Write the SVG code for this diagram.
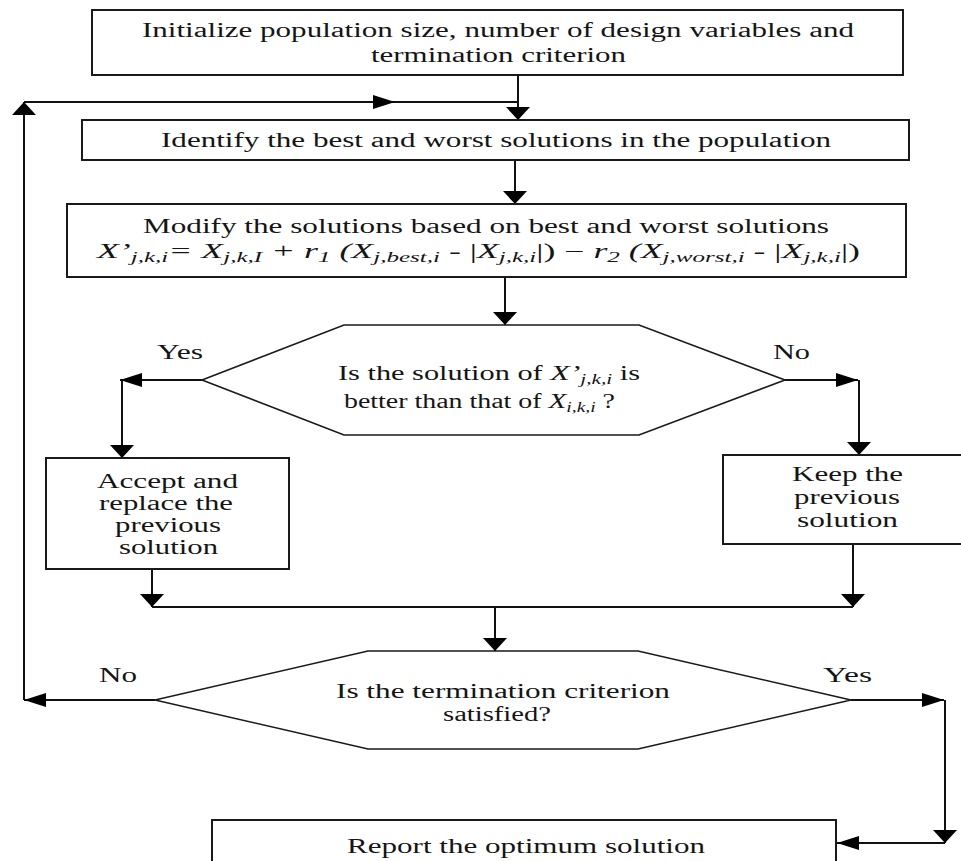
<svg xmlns="http://www.w3.org/2000/svg" width="961" height="861" viewBox="0 0 961 861">
<defs>
<marker id="ah" markerUnits="userSpaceOnUse" markerWidth="22" markerHeight="14" refX="22" refY="7" orient="auto"><path d="M0,0 L22,7 L0,14 Z" fill="#000"/></marker>
<marker id="av" markerUnits="userSpaceOnUse" markerWidth="13" markerHeight="24" refX="13" refY="12" orient="auto"><path d="M0,0 L13,12 L0,24 Z" fill="#000"/></marker>
<style>
.box{fill:#fff;stroke:#1a1a1a;stroke-width:2}
.hex{fill:#fff;stroke:#1a1a1a;stroke-width:1.6}
.t{font-family:"Liberation Serif","DejaVu Serif",serif;font-size:20px;fill:#151515}
.i{font-style:italic}
.s{font-size:14px;font-style:italic}
.c{fill:none;stroke:#111;stroke-width:2}
.h{marker-end:url(#ah)}
.v{marker-end:url(#av)}
</style>
</defs>
<g id="connectors">
<path class="c v" d="M518,75 V120"/>
<path class="c h" d="M24,102 H395"/>
<path class="c" d="M395,102 H518"/>
<path class="c v" d="M24,700 V102"/>
<path class="c v" d="M515,160 V204"/>
<path class="c v" d="M505,277 V325"/>
<path class="c h" d="M202,380 H120"/>
<path class="c v" d="M122,380 V458"/>
<path class="c h" d="M785,380 H858"/>
<path class="c v" d="M859,380 V455"/>
<path class="c v" d="M152,569 V607"/>
<path class="c v" d="M853,544 V607"/>
<path class="c" d="M152,607 H853"/>
<path class="c v" d="M495,607 V651"/>
<path class="c h" d="M155,700 H24"/>
<path class="c h" d="M851,700 H944"/>
<path class="c v" d="M945,700 V843"/>
<path class="c h" d="M945,843 H837"/>
</g>
<g id="init">
<rect class="box" x="92" y="10" width="811" height="65"/>
<text class="t" x="142" y="37" font-size="21" textLength="712" lengthAdjust="spacingAndGlyphs">Initialize population size, number of design variables and</text>
<text class="t" x="371" y="62" font-size="21" textLength="255" lengthAdjust="spacingAndGlyphs">termination criterion</text>
</g>
<g id="identify">
<rect class="box" x="82" y="120" width="827" height="40"/>
<text class="t" x="161" y="147" font-size="21" textLength="670" lengthAdjust="spacingAndGlyphs">Identify the best and worst solutions in the population</text>
</g>
<g id="modify">
<rect class="box" x="67" y="204" width="839" height="73"/>
<text class="t" x="143" y="233" font-size="21" textLength="686" lengthAdjust="spacingAndGlyphs">Modify the solutions based on best and worst solutions</text>
<text class="t i" x="97" y="258" font-size="22" textLength="763" lengthAdjust="spacingAndGlyphs">X’<tspan class="s" dy="4">j,k,i</tspan><tspan dy="-4">= X</tspan><tspan class="s" dy="4">j,k,I</tspan><tspan dy="-4"> + r</tspan><tspan class="s" dy="4">1</tspan><tspan dy="-4"> (X</tspan><tspan class="s" dy="4">j,best,i</tspan><tspan dy="-4" font-style="normal"> - |</tspan><tspan>X</tspan><tspan class="s" dy="4">j,k,i</tspan><tspan dy="-4" font-style="normal">|) − </tspan><tspan>r</tspan><tspan class="s" dy="4">2</tspan><tspan dy="-4"> (X</tspan><tspan class="s" dy="4">j,worst,i</tspan><tspan dy="-4" font-style="normal"> - |</tspan><tspan>X</tspan><tspan class="s" dy="4">j,k,i</tspan><tspan dy="-4" font-style="normal">|)</tspan></text>
</g>
<g id="decision1">
<polygon class="hex" points="202,380 344,325 639,325 785,380 639,435 344,435"/>
<text class="t" x="338" y="380" textLength="302" lengthAdjust="spacingAndGlyphs">Is the solution of <tspan class="i" font-size="21">X’</tspan><tspan class="s" dy="4">j,k,i</tspan><tspan dy="-4"> is</tspan></text>
<text class="t" x="344" y="408" textLength="271" lengthAdjust="spacingAndGlyphs">better than that of <tspan class="i" font-size="21">X</tspan><tspan class="s" dy="4">i,k,i</tspan><tspan dy="-4"> ?</tspan></text>
</g>
<g id="accept">
<rect class="box" x="46" y="458" width="243" height="111"/>
<text class="t" x="97" y="488" textLength="141" lengthAdjust="spacingAndGlyphs">Accept and</text>
<text class="t" x="99" y="510" textLength="134" lengthAdjust="spacingAndGlyphs">replace the</text>
<text class="t" x="115" y="532" textLength="106" lengthAdjust="spacingAndGlyphs">previous</text>
<text class="t" x="119" y="554" textLength="99" lengthAdjust="spacingAndGlyphs">solution</text>
</g>
<g id="keep">
<rect class="box" x="723" y="455" width="245" height="89"/>
<text class="t" x="792" y="481" textLength="111" lengthAdjust="spacingAndGlyphs">Keep the</text>
<text class="t" x="794" y="504" textLength="106" lengthAdjust="spacingAndGlyphs">previous</text>
<text class="t" x="797" y="527" textLength="101" lengthAdjust="spacingAndGlyphs">solution</text>
</g>
<g id="decision2">
<polygon class="hex" points="155,700 368,651 638,651 851,700 638,749 368,749"/>
<text class="t" x="336" y="698" textLength="334" lengthAdjust="spacingAndGlyphs">Is the termination criterion</text>
<text class="t" x="443" y="721" textLength="108" lengthAdjust="spacingAndGlyphs">satisfied?</text>
</g>
<g id="report">
<rect class="box" x="212" y="820" width="624" height="60"/>
<text class="t" x="347" y="853" textLength="358" lengthAdjust="spacingAndGlyphs">Report the optimum solution</text>
</g>
<g id="labels">
<text class="t" x="157" y="359" textLength="46" lengthAdjust="spacingAndGlyphs">Yes</text>
<text class="t" x="773" y="359" textLength="37" lengthAdjust="spacingAndGlyphs">No</text>
<text class="t" x="99" y="682" textLength="38" lengthAdjust="spacingAndGlyphs">No</text>
<text class="t" x="823" y="682" textLength="49" lengthAdjust="spacingAndGlyphs">Yes</text>
</g>
</svg>
